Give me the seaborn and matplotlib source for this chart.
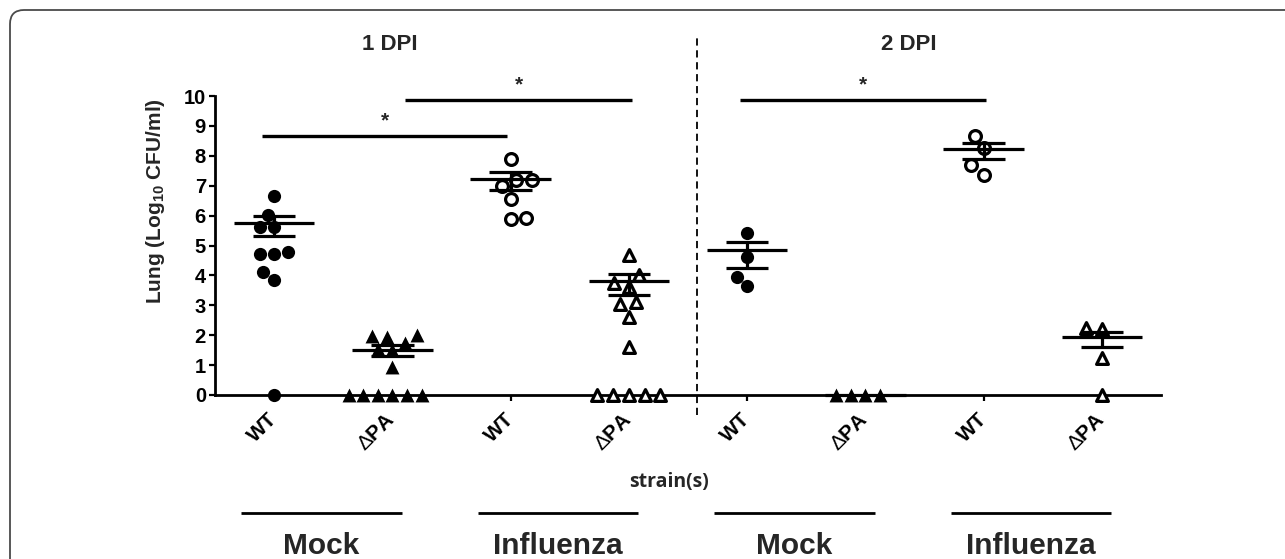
import numpy as np
import pandas as pd
import seaborn as sns
import matplotlib
matplotlib.use("Agg")
import matplotlib.pyplot as plt
from matplotlib.patches import FancyBboxPatch
from matplotlib.transforms import blended_transform_factory, IdentityTransform

# ---------------- data ----------------
days = ["1 DPI", "2 DPI"]
treatments = ["Mock", "Influenza", "Mock", "Influenza"]
strains = ["WT", "ΔPA", "WT", "ΔPA", "WT", "ΔPA", "WT", "ΔPA"]
groups = ["D1 Mock WT", "D1 Mock dPA", "D1 Flu WT", "D1 Flu dPA",
          "D2 Mock WT", "D2 Mock dPA", "D2 Flu WT", "D2 Flu dPA"]

d1_mock_wt = [6.65, 6.01, 5.62, 5.62, 4.79, 4.73, 4.73, 4.12, 3.86, 0.0]
d1_mock_dpa = [1.97, 2.00, 1.93, 1.73, 1.55, 1.50, 0.95, 0, 0, 0, 0, 0, 0]
d1_flu_wt = [7.88, 7.18, 7.18, 6.98, 6.57, 5.87, 5.92]
d1_flu_dpa = [4.68, 4.01, 3.75, 3.62, 3.12, 3.04, 2.62, 1.61, 0, 0, 0, 0, 0]
d2_mock_wt = [5.41, 4.60, 3.96, 3.65]
d2_mock_dpa = [0, 0, 0, 0]
d2_flu_wt = [8.66, 8.25, 7.68, 7.36]
d2_flu_dpa = [2.23, 2.20, 1.25, 0]

means = [5.76, 1.51, 7.24, 3.82, 4.86, 0.00, 8.23, 1.95]
sem_hi = [5.98, 1.67, 7.46, 4.04, 5.11, 0.00, 8.42, 2.12]
sem_lo = [5.31, 1.31, 6.87, 3.34, 4.24, 0.00, 7.89, 1.62]

sig_left = [-0.10, 1.11, 3.94]
sig_right = [1.97, 3.03, 6.02]
sig_y = [8.66, 9.87, 9.87]

all_vals = [d1_mock_wt, d1_mock_dpa, d1_flu_wt, d1_flu_dpa,
            d2_mock_wt, d2_mock_dpa, d2_flu_wt, d2_flu_dpa]
styles = ["mock_wt", "mock_dpa", "flu_wt", "flu_dpa"] * 2

rows = []
for g, st, vals in zip(groups, styles, all_vals):
    for v in vals:
        rows.append({"group": g, "style": st, "value": v})
df = pd.DataFrame(rows)

# ---------------- style ----------------
sns.set_theme(style="ticks")
plt.rcParams["font.family"] = ["Liberation Sans", "DejaVu Sans"]
plt.rcParams["mathtext.fontset"] = "custom"
plt.rcParams["mathtext.rm"] = "Liberation Sans"
plt.rcParams["mathtext.bf"] = "Liberation Sans:bold"
plt.rcParams["mathtext.it"] = "Liberation Sans:italic"

W, H = 1285, 559
fig = plt.figure(figsize=(W / 100, H / 100), dpi=100)
ax = fig.add_axes([215 / W, 1 - 395 / H, (1161 - 215) / W, (395 - 96) / H])

marker_spec = {
    "mock_wt": dict(marker="o", color="black", linewidth=0, size=9.5),
    "mock_dpa": dict(marker="^", color="black", linewidth=0, size=10),
    "flu_wt": dict(marker="o", color="white", edgecolor="black", linewidth=2.3, size=8.5),
    "flu_dpa": dict(marker="^", color="white", edgecolor="black", linewidth=2.3, size=8.5),
}
for st, spec in marker_spec.items():
    sub = df[df["style"] == st]
    sns.swarmplot(data=sub, x="group", y="value", order=groups, ax=ax,
                  warn_thresh=1.0, **spec)

for coll in ax.collections:
    coll.set_clip_on(False)

pos = np.arange(len(groups))
ax.hlines(means, pos - 0.34, pos + 0.34, color="black", lw=2.3, zorder=4, clip_on=False)
has_err = np.array(sem_hi) > np.array(sem_lo)
ax.hlines(np.array(sem_hi)[has_err], pos[has_err] - 0.18, pos[has_err] + 0.18,
          color="black", lw=2.3, zorder=4)
ax.hlines(np.array(sem_lo)[has_err], pos[has_err] - 0.18, pos[has_err] + 0.18,
          color="black", lw=2.3, zorder=4)
ax.vlines(pos[has_err], np.array(sem_lo)[has_err], np.array(sem_hi)[has_err],
          color="black", lw=2.3, zorder=4)

# significance bars
for l, r, y in zip(sig_left, sig_right, sig_y):
    ax.plot([l, r], [y, y], color="black", lw=2.4, solid_capstyle="butt", clip_on=False)
    ax.text((l + r) / 2, y + 0.2, "*", ha="center", va="bottom",
            fontsize=15, fontweight="bold", clip_on=False)

# divider between days
ax.plot([3.58, 3.58], [-0.67, 12.05], color="black", lw=1.3, ls=(0, (4, 2.6)),
        clip_on=False)

ax.set_xlim(-0.5, 7.5)
ax.set_ylim(0, 10)
ax.set_yticks(range(0, 11))
ax.set_xticks(pos)
ax.set_xticklabels([s.replace("Δ", r"$\Delta$") for s in strains])
ax.set_xlabel("")
ax.set_ylabel("Lung (Log$_{\\mathbf{10}}$ CFU/ml)", fontsize=15, fontweight="bold")
ax.yaxis.set_label_coords(-0.063, 0.65)
ax.yaxis.label.set_va("center")

for s in ["top", "right"]:
    ax.spines[s].set_visible(False)
for s in ["left", "bottom"]:
    ax.spines[s].set_linewidth(2.0)
    ax.spines[s].set_color("black")

ax.tick_params(axis="y", direction="out", length=4.5, width=1.6, pad=2,
               labelsize=14.5, colors="black")
ax.tick_params(axis="x", direction="out", length=4.5, width=1.6, pad=11,
               labelsize=15, colors="black")
for t in ax.get_yticklabels():
    t.set_fontweight("bold")
for t in ax.get_xticklabels():
    t.set_fontweight("bold")
    t.set_rotation(45)
    t.set_ha("right")
    t.set_va("center")
    t.set_rotation_mode("anchor")

# day titles
trans_title = blended_transform_factory(ax.transData, fig.transFigure)
for x, d in zip([0.98, 5.37], days):
    ax.text(x, 1 - 45 / H, d, transform=trans_title, ha="center", va="center",
            fontsize=16, fontweight="bold")

# x label
fig.text(669 / W, 1 - 482 / H, "strain(s)", ha="center", va="center",
         fontsize=14, fontweight="bold", family=["Open Sans", "DejaVu Sans"])

# treatment brackets & labels
trans = blended_transform_factory(ax.transData, fig.transFigure)
for i, tr in enumerate(treatments):
    c = 2 * i + 0.4
    ax.plot([c - 0.68, c + 0.68], [1 - 513 / H] * 2, transform=trans,
            color="black", lw=2.0, clip_on=False, solid_capstyle="butt")
    ax.text(c, 1 - 554 / H, tr, transform=trans, ha="center", va="baseline",
            fontsize=21.5, fontweight="bold", clip_on=False)

# outer rounded frame
frame = FancyBboxPatch((10, -40), 1340, (H - 10) + 40,
                       boxstyle="round,pad=0,rounding_size=14",
                       transform=IdentityTransform(), fill=False,
                       edgecolor="#4a4a4a", linewidth=1.3)
fig.patches.append(frame)

fig.savefig("out.png", dpi=100)
